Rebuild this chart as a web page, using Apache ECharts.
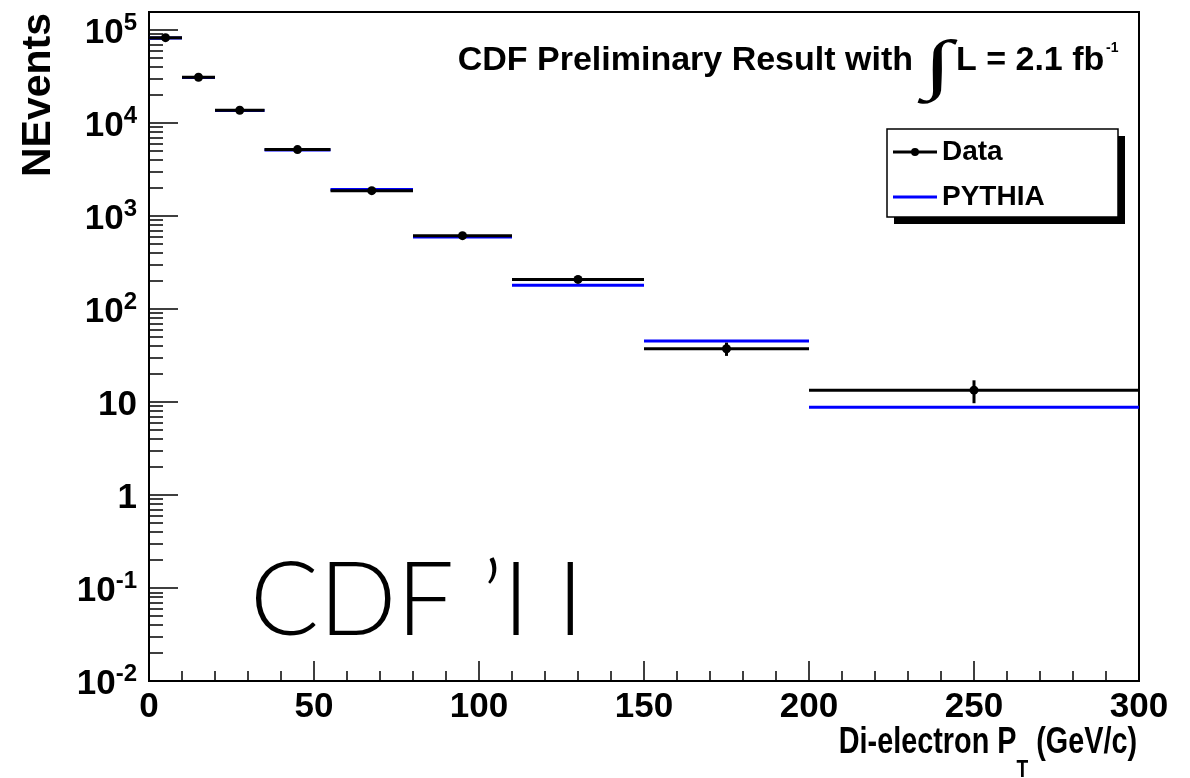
<!DOCTYPE html>
<html>
<head>
<meta charset="utf-8">
<script src="https://cdn.jsdelivr.net/npm/echarts@6/dist/echarts.min.js"></script>
<style>
  html, body { margin: 0; padding: 0; background: #fff; }
  #chart { width: 1190px; height: 778px; }
</style>
</head>
<body>
<div id="chart"></div>
<script>
// bins in di-electron pT (GeV/c)
const binLow = [0, 10, 20, 35, 55, 80, 110, 150, 200]
const binHigh = [10, 20, 35, 55, 80, 110, 150, 200, 300]
// measured counts and their errors
const dataCounts = [82600, 31000, 13700, 5170, 1870, 614, 208, 37.4, 13.4]
const dataErrors = [287, 176, 117, 72, 43, 25, 14, 6.1, 3.7]
// PYTHIA prediction
const pythiaCounts = [82000, 30800, 13600, 5120, 1920, 596, 180, 45.3, 8.8]

const FONT = '"Liberation Sans", Arial, Helvetica, sans-serif'

const chart = echarts.init(document.getElementById('chart'))

const dataRows = binLow.map((lo, i) => [lo, binHigh[i], dataCounts[i], dataErrors[i]])
const pythiaRows = binLow.map((lo, i) => [lo, binHigh[i], pythiaCounts[i]])

const renderData = (params, api) => {
  const lo = api.value(0)
  const hi = api.value(1)
  const y = api.value(2)
  const err = api.value(3)
  const mid = (lo + hi) / 2
  const a = api.coord([lo, y])
  const b = api.coord([hi, y])
  const c = api.coord([mid, y])
  const up = api.coord([mid, y + err])
  const dn = api.coord([mid, y - err])
  return {
    type: 'group',
    children: [
      { type: 'line', shape: { x1: a[0], y1: a[1], x2: b[0], y2: b[1] }, style: { stroke: '#000', lineWidth: 3 } },
      { type: 'line', shape: { x1: up[0], y1: up[1], x2: dn[0], y2: dn[1] }, style: { stroke: '#000', lineWidth: 3 } },
      { type: 'circle', shape: { cx: c[0], cy: c[1], r: 4.5 }, style: { fill: '#000' } },
    ],
  }
}

const renderPythia = (params, api) => {
  const a = api.coord([api.value(0), api.value(2)])
  const b = api.coord([api.value(1), api.value(2)])
  return {
    type: 'line',
    shape: { x1: a[0], y1: a[1], x2: b[0], y2: b[1] },
    style: { stroke: '#0000ff', lineWidth: 3 },
  }
}

const yLabel = (v) => {
  const lg = Math.log10(v)
  const e = Math.round(lg)
  if (Math.abs(lg - e) > 1e-6) return ''
  if (e === 0) return '{b|1}'
  if (e === 1) return '{b|10}'
  return '{b|10}{s|' + e + '}'
}

const option = {
  backgroundColor: '#fff',
  animation: false,
  grid: {
    left: 149, right: 51, top: 12, bottom: 97,
    show: true, borderColor: '#000', borderWidth: 2,
    outerBoundsMode: 'none',
  },
  xAxis: {
    type: 'value',
    min: 0, max: 300, interval: 50,
    axisLine: { lineStyle: { color: '#000', width: 2 } },
    axisTick: { inside: true, length: 20, lineStyle: { color: '#000', width: 1.5 } },
    minorTick: { show: true, splitNumber: 5, length: 10, lineStyle: { color: '#000', width: 1.5 } },
    splitLine: { show: false },
    axisLabel: { margin: 9, fontFamily: FONT, fontSize: 35, fontWeight: 'bold', color: '#000' },
  },
  yAxis: {
    type: 'log',
    logBase: 10,
    min: 0.01, max: 156000,
    name: 'NEvents',
    nameLocation: 'end',
    nameRotate: 90,
    nameGap: -1,
    nameTextStyle: {
      fontFamily: FONT, fontSize: 41, fontWeight: 'bold', color: '#000',
      align: 'right', verticalAlign: 'bottom', padding: [0, 0, 90, 0],
    },
    axisLine: { lineStyle: { color: '#000', width: 2 } },
    axisTick: { inside: true, length: 29, lineStyle: { color: '#000', width: 1.5 } },
    minorTick: { show: true, splitNumber: 9, length: 14, lineStyle: { color: '#000', width: 1.5 } },
    splitLine: { show: false },
    axisLabel: {
      margin: 12,
      showMaxLabel: false,
      formatter: yLabel,
      rich: {
        b: { fontFamily: FONT, fontSize: 35, fontWeight: 'bold', color: '#000', padding: [7, 0, 0, 0] },
        s: { fontFamily: FONT, fontSize: 24, fontWeight: 'bold', color: '#000', padding: [0, 0, 14, 0] },
      },
    },
  },
  legend: {
    orient: 'vertical',
    left: 893, top: 137,
    padding: 0,
    itemGap: 15,
    itemWidth: 44,
    itemHeight: 10,
    selectedMode: false,
    z: 10,
    textStyle: { fontFamily: FONT, fontSize: 28, fontWeight: 'bold', color: '#000', lineHeight: 30 },
    data: [
      { name: 'Data', icon: 'path://M0,4.5h44v3h-44z M22,2a4,4 0 1,1 0,8a4,4 0 1,1 0,-8z', itemStyle: { color: '#000' } },
      { name: 'PYTHIA', icon: 'path://M0,0h44v3h-44z', itemStyle: { color: '#0000ff' } },
    ],
  },
  graphic: [
    // legend box and its drop shadow
    { type: 'rect', z: 5, shape: { x: 894, y: 136, width: 231, height: 88 }, style: { fill: '#000' } },
    { type: 'rect', z: 6, shape: { x: 887, y: 129, width: 231, height: 88 }, style: { fill: '#fff', stroke: '#000', lineWidth: 1.5 } },
    {
      type: 'text', x: 913, y: 61,
      style: { text: 'CDF Preliminary Result with', fontFamily: FONT, fontSize: 34, fontWeight: 'bold', fill: '#000', align: 'right', verticalAlign: 'middle' },
    },
    {
      type: 'text', x: 938, y: 69, scaleX: 1.6,
      style: { text: '\u222B', fontFamily: '"Liberation Serif", "DejaVu Serif", serif', fontSize: 66, fontWeight: 'bold', fill: '#000', align: 'center', verticalAlign: 'middle' },
    },
    {
      type: 'text', x: 956, y: 61,
      style: { text: 'L = 2.1 fb', fontFamily: FONT, fontSize: 34, fontWeight: 'bold', fill: '#000', align: 'left', verticalAlign: 'middle' },
    },
    {
      type: 'text', x: 1106, y: 48,
      style: { text: '-1', fontFamily: FONT, fontSize: 14, fontWeight: 'bold', fill: '#000', align: 'left', verticalAlign: 'middle' },
    },
    {
      type: 'text', x: 1137, y: 723, scaleX: 0.8,
      style: {
        text: '{a|Di-electron P}{s|T}{a| (GeV/c)}',
        align: 'right', verticalAlign: 'top',
        rich: {
          a: { fontFamily: FONT, fontSize: 36, fontWeight: 'bold', fill: '#000', lineHeight: 40 },
          s: { fontFamily: FONT, fontSize: 24, fontWeight: 'bold', fill: '#000', lineHeight: 40, padding: [55, 0, 0, 0] },
        },
      },
    },
    {
      type: 'text', x: 250, y: 602,
      style: { text: 'CDF \u2019I I', fontFamily: 'Lato, "Open Sans", sans-serif', fontSize: 102, fontWeight: 300, fill: '#000', align: 'left', verticalAlign: 'middle' },
    },
  ],
  series: [
    {
      name: 'PYTHIA',
      type: 'custom',
      renderItem: renderPythia,
      data: pythiaRows,
      encode: { x: [0, 1], y: 2 },
      itemStyle: { color: '#0000ff' },
      clip: true,
      z: 2,
    },
    {
      name: 'Data',
      type: 'custom',
      renderItem: renderData,
      data: dataRows,
      encode: { x: [0, 1], y: 2 },
      itemStyle: { color: '#000' },
      clip: true,
      z: 3,
    },
  ],
}

chart.setOption(option)
window.addEventListener('resize', () => chart.resize())
</script>
</body>
</html>
